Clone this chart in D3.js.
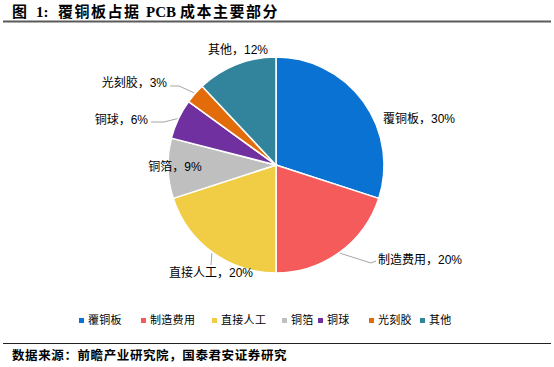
<!DOCTYPE html>
<html>
<head>
<meta charset="utf-8">
<script src="https://cdn.jsdelivr.net/npm/d3@7"></script>
<style>
  body { margin: 0; background: #fff; }
  svg text { font-family: "Liberation Sans", "Noto Sans CJK SC", sans-serif; fill: #000; }
</style>
</head>
<body>
<div id="chart"></div>
<script>
// Chart data
var categories = ['覆铜板', '制造费用', '直接人工', '铜箔', '铜球', '光刻胶', '其他'];
var shares = [30, 20, 20, 9, 6, 3, 12];
var colors = ['#0A72D2', '#F55B5B', '#F0CD45', '#BFBFBF', '#7030A0', '#E36C0A', '#31849B'];

var width = 554, height = 367;
var cx = 276, cy = 165, radius = 108;

var svg = d3.select('#chart').append('svg')
    .attr('width', width)
    .attr('height', height);

// Title and rules
var title = svg.append('text')
    .attr('y', 17)
    .style('font-family', '"Liberation Serif", "Noto Sans CJK SC", serif')
    .style('font-weight', 'bold')
    .style('font-size', '15px');
title.append('tspan').attr('x', 12).text('图');
title.append('tspan').attr('x', 36).text('1:');
title.append('tspan').attr('x', 58).style('letter-spacing', '1.5px').text('覆铜板占据');
title.append('tspan').attr('x', 146).text('PCB');
title.append('tspan').attr('x', 180).style('letter-spacing', '1.5px').text('成本主要部分');

svg.append('line')
    .attr('x1', 3).attr('x2', 551).attr('y1', 21.5).attr('y2', 21.5)
    .attr('stroke', '#5a5a5a').attr('stroke-width', 2);

svg.append('line')
    .attr('x1', 3).attr('x2', 551).attr('y1', 343.5).attr('y2', 343.5)
    .attr('stroke', '#222').attr('stroke-width', 1);

svg.append('text')
    .attr('x', 12).attr('y', 360)
    .style('font-weight', 'bold')
    .style('font-size', '12.5px')
    .style('letter-spacing', '0.6px')
    .text('数据来源：前瞻产业研究院，国泰君安证券研究');

// Pie
var data = categories.map(function(c, i) { return {name: c, value: shares[i], color: colors[i]}; });

var pie = d3.pie().sort(null).value(function(d) { return d.value; });
var arc = d3.arc().innerRadius(0).outerRadius(radius);
var arcs = pie(data);

var g = svg.append('g').attr('transform', 'translate(' + cx + ',' + cy + ')');

g.selectAll('path').data(arcs).enter().append('path')
    .attr('d', arc)
    .attr('fill', function(d) { return d.data.color; })
    .attr('stroke', '#fff')
    .attr('stroke-width', 1.5);

// Label layout (relative to pie centre)
var labelLayout = [
    {x: 107, y: -45, anchor: 'start'},
    {x: 102, y: 96, anchor: 'start', leader: [[95, 98], [100, 96]]},
    {x: -65, y: 109, anchor: 'middle', leader: [[-65, 100], [-65, 100]]},
    {x: -101, y: 3, anchor: 'middle'},
    {x: -128, y: -44, anchor: 'end', leader: [[-112, -43], [-125, -43]]},
    {x: -109, y: -81, anchor: 'end', leader: [[-97, -79], [-106, -79]]},
    {x: -38, y: -114, anchor: 'middle'}
];

function edgePoint(d, r) {
    var a = (d.startAngle + d.endAngle) / 2;
    return [r * Math.sin(a), -r * Math.cos(a)];
}

arcs.forEach(function(d, i) {
    var l = labelLayout[i];
    if (l.leader) {
        var pts = [edgePoint(d, radius + 1)].concat(l.leader);
        g.append('polyline')
            .attr('points', pts.map(function(p) { return p.join(','); }).join(' '))
            .attr('fill', 'none')
            .attr('stroke', '#a6a6a6')
            .attr('stroke-width', 1);
    }
    g.append('text')
        .attr('x', l.x).attr('y', l.y)
        .attr('text-anchor', l.anchor)
        .attr('dominant-baseline', 'middle')
        .style('font-size', '12px')
        .text(d.data.name + '，' + d.data.value + '%');
});

// Legend
var legendX = [79, 141, 212, 282, 318, 369, 420];
var legend = svg.append('g').attr('transform', 'translate(0,321)');
var items = legend.selectAll('g').data(data).enter().append('g')
    .attr('transform', function(d, i) { return 'translate(' + legendX[i] + ',0)'; });
items.append('rect')
    .attr('x', 0).attr('y', -3)
    .attr('width', 5).attr('height', 5)
    .attr('fill', function(d) { return d.color; });
items.append('text')
    .attr('x', 9).attr('y', 0)
    .attr('dominant-baseline', 'middle')
    .style('font-size', '11px')
    .style('letter-spacing', '0.3px')
    .text(function(d) { return d.name; });
</script>
</body>
</html>
